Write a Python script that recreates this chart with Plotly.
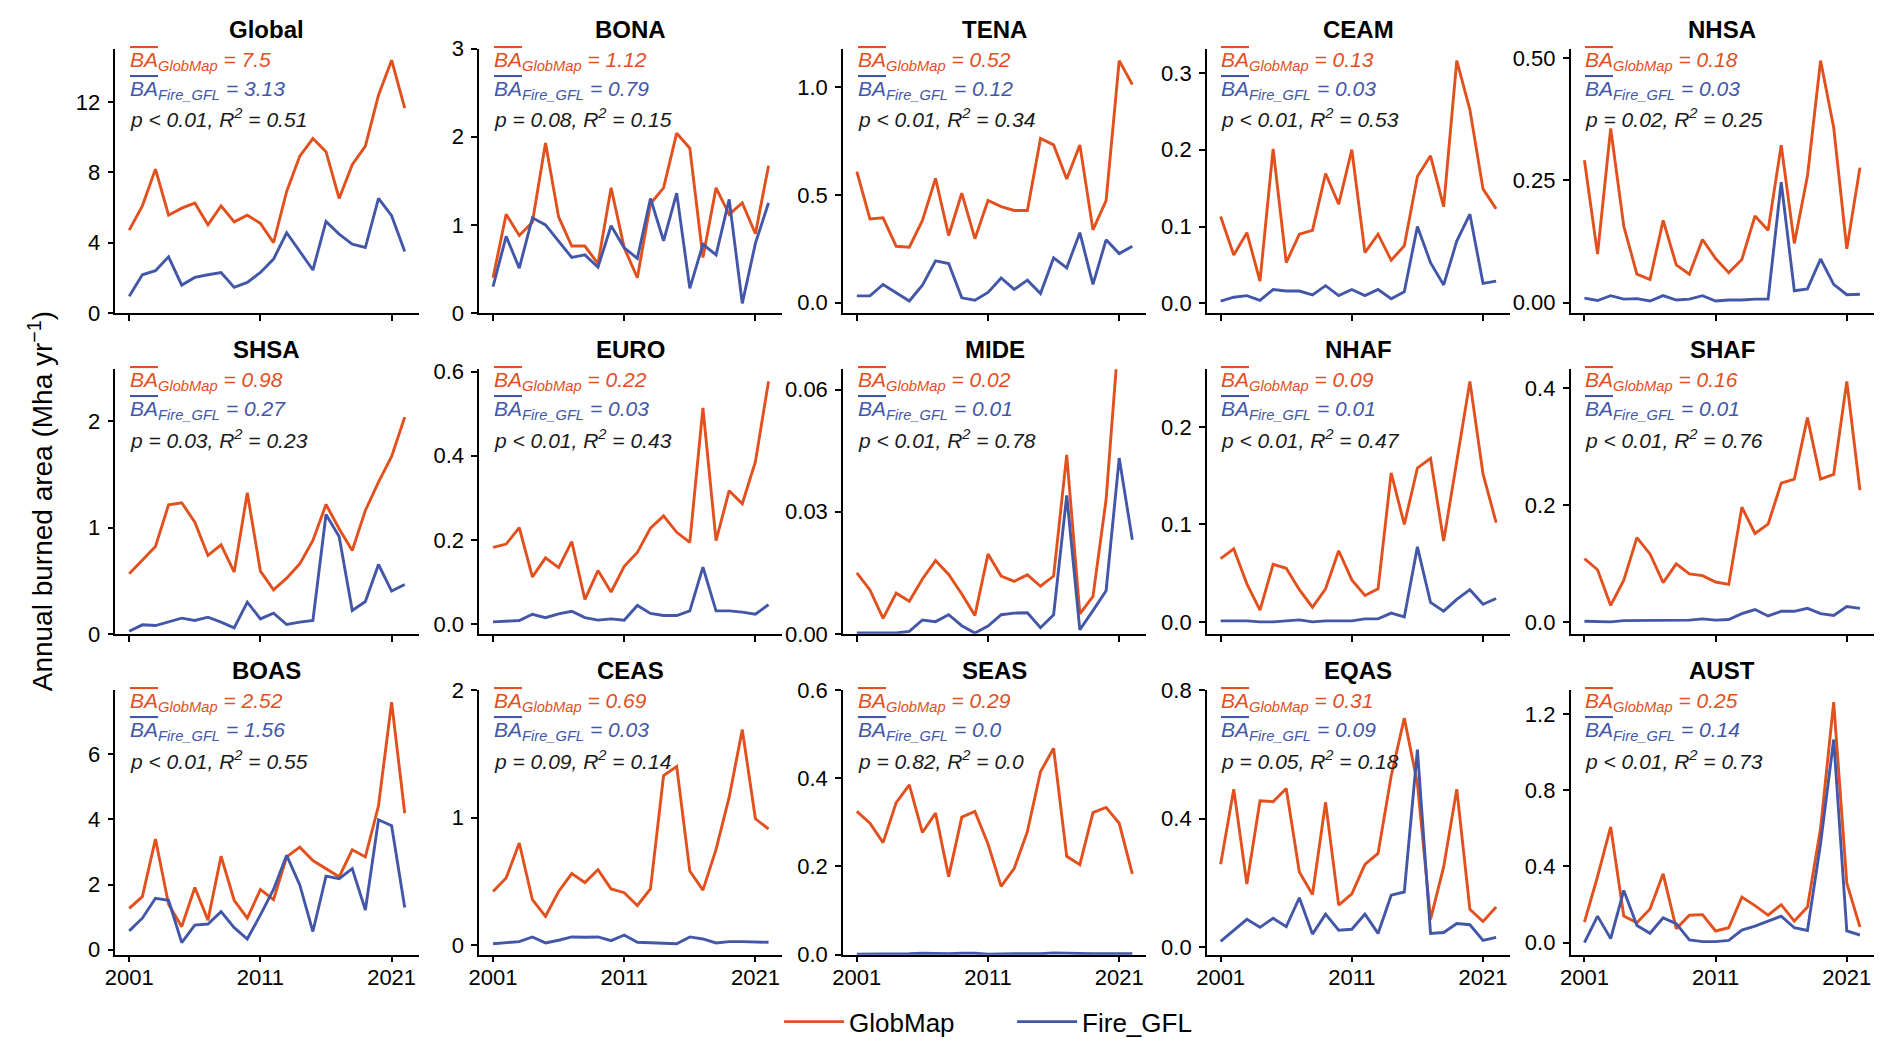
import plotly.graph_objects as go

W, H = 1892, 1054          # browser window
BODY = 8                   # default page margin of the html body
FW, FH = W - 2 * BODY, H - 2 * BODY
# empirical correction between requested and photographed positions
SX, OX = 0.994, 9.1
SY, OY = 0.977, 11.3

YEARS = list(range(2001, 2023))
REGIONS = ["Global", "BONA", "TENA", "CEAM", "NHSA",
           "SHSA", "EURO", "MIDE", "NHAF", "SHAF",
           "BOAS", "CEAS", "SEAS", "EQAS", "AUST"]

# ---- annual burned area (Mha/yr), GlobMap and Fire_GFL, 2001-2022 ----
GLOBAL_GM = [4.72, 6.1, 8.19, 5.57, 5.97, 6.26, 5.02, 6.1, 5.19, 5.57, 5.1, 4.0, 6.92, 8.93, 9.93, 9.18, 6.52, 8.44, 9.5, 12.4, 14.39, 11.66]
GLOBAL_GFL = [0.95, 2.18, 2.41, 3.2, 1.59, 2.03, 2.18, 2.31, 1.46, 1.74, 2.31, 3.07, 4.57, 3.5, 2.45, 5.21, 4.49, 3.92, 3.73, 6.52, 5.54, 3.5]
BONA_GM = [0.40, 1.12, 0.88, 1.03, 1.93, 1.09, 0.76, 0.76, 0.56, 1.42, 0.74, 0.40, 1.24, 1.42, 2.04, 1.87, 0.63, 1.42, 1.12, 1.25, 0.9, 1.67]
BONA_GFL = [0.30, 0.87, 0.51, 1.08, 1.0, 0.82, 0.63, 0.66, 0.52, 0.99, 0.74, 0.62, 1.30, 0.82, 1.36, 0.28, 0.78, 0.66, 1.29, 0.11, 0.79, 1.25]
TENA_GM = [0.608, 0.389, 0.394, 0.262, 0.258, 0.382, 0.577, 0.312, 0.508, 0.297, 0.474, 0.446, 0.428, 0.428, 0.762, 0.732, 0.574, 0.732, 0.338, 0.474, 1.123, 1.012]
TENA_GFL = [0.032, 0.032, 0.085, 0.046, 0.008, 0.082, 0.194, 0.182, 0.023, 0.012, 0.048, 0.115, 0.062, 0.105, 0.043, 0.208, 0.162, 0.325, 0.085, 0.292, 0.228, 0.262]
CEAM_GM = [0.113, 0.063, 0.092, 0.029, 0.201, 0.053, 0.09, 0.095, 0.169, 0.129, 0.2, 0.066, 0.09, 0.056, 0.075, 0.165, 0.192, 0.126, 0.316, 0.252, 0.149, 0.123]
CEAM_GFL = [0.003, 0.008, 0.01, 0.004, 0.018, 0.016, 0.016, 0.011, 0.023, 0.01, 0.018, 0.01, 0.018, 0.006, 0.015, 0.1, 0.053, 0.024, 0.081, 0.116, 0.026, 0.029]
NHSA_GM = [0.291, 0.099, 0.356, 0.156, 0.058, 0.047, 0.168, 0.077, 0.058, 0.129, 0.09, 0.061, 0.088, 0.177, 0.148, 0.322, 0.121, 0.259, 0.495, 0.358, 0.11, 0.276]
NHSA_GFL = [0.009, 0.004, 0.014, 0.007, 0.008, 0.003, 0.014, 0.005, 0.007, 0.014, 0.003, 0.005, 0.005, 0.007, 0.007, 0.246, 0.024, 0.028, 0.089, 0.037, 0.016, 0.017]
SHSA_GM = [0.565, 0.69, 0.823, 1.215, 1.234, 1.052, 0.738, 0.838, 0.581, 1.328, 0.59, 0.414, 0.524, 0.659, 0.879, 1.218, 0.989, 0.785, 1.162, 1.429, 1.67, 2.04]
SHSA_GFL = [0.025, 0.085, 0.078, 0.116, 0.148, 0.126, 0.157, 0.11, 0.057, 0.298, 0.141, 0.195, 0.088, 0.11, 0.126, 1.124, 0.917, 0.22, 0.305, 0.653, 0.402, 0.465]
EURO_GM = [0.182, 0.19, 0.229, 0.112, 0.157, 0.134, 0.196, 0.058, 0.127, 0.076, 0.137, 0.17, 0.228, 0.257, 0.218, 0.194, 0.514, 0.198, 0.317, 0.286, 0.386, 0.577]
EURO_GFL = [0.005, 0.007, 0.008, 0.023, 0.015, 0.024, 0.03, 0.015, 0.009, 0.012, 0.009, 0.044, 0.025, 0.02, 0.02, 0.031, 0.135, 0.031, 0.031, 0.028, 0.023, 0.046]
MIDE_GM = [0.015, 0.0108, 0.0038, 0.01, 0.008, 0.0135, 0.018, 0.0146, 0.0098, 0.0045, 0.0196, 0.0142, 0.0129, 0.0145, 0.0117, 0.0142, 0.044, 0.0049, 0.0092, 0.033, 0.075, 0.07]
MIDE_GFL = [0.0002, 0.0002, 0.0002, 0.0002, 0.0006, 0.0034, 0.003, 0.0047, 0.002, 0.0002, 0.0019, 0.0047, 0.0051, 0.0052, 0.0015, 0.0047, 0.034, 0.001, 0.0057, 0.0106, 0.0432, 0.0231]
NHAF_GM = [0.065, 0.075, 0.039, 0.012, 0.059, 0.055, 0.033, 0.015, 0.034, 0.073, 0.043, 0.027, 0.034, 0.153, 0.1, 0.158, 0.168, 0.083, 0.165, 0.247, 0.152, 0.102]
NHAF_GFL = [0.001, 0.001, 0.001, 0.0, 0.0, 0.001, 0.002, 0.0, 0.001, 0.001, 0.001, 0.003, 0.003, 0.009, 0.005, 0.077, 0.02, 0.011, 0.023, 0.033, 0.018, 0.024]
SHAF_GM = [0.108, 0.089, 0.028, 0.071, 0.144, 0.116, 0.067, 0.099, 0.082, 0.079, 0.068, 0.064, 0.196, 0.151, 0.167, 0.237, 0.244, 0.349, 0.244, 0.252, 0.411, 0.225]
SHAF_GFL = [0.001, 0.001, 0.0, 0.002, 0.002, 0.002, 0.003, 0.002, 0.003, 0.005, 0.003, 0.004, 0.014, 0.021, 0.01, 0.018, 0.018, 0.023, 0.014, 0.011, 0.026, 0.023]
BOAS_GM = [1.27, 1.63, 3.4, 1.4, 0.71, 1.91, 0.91, 2.87, 1.52, 0.97, 1.85, 1.54, 2.85, 3.15, 2.74, 2.49, 2.24, 3.07, 2.85, 4.42, 7.6, 4.19]
BOAS_GFL = [0.58, 0.97, 1.58, 1.52, 0.22, 0.76, 0.79, 1.17, 0.68, 0.33, 1.07, 1.85, 2.9, 1.99, 0.56, 2.26, 2.18, 2.49, 1.22, 3.99, 3.81, 1.3]
CEAS_GM = [0.42, 0.525, 0.8, 0.355, 0.225, 0.42, 0.56, 0.49, 0.59, 0.44, 0.41, 0.31, 0.44, 1.33, 1.4, 0.58, 0.43, 0.75, 1.16, 1.69, 0.99, 0.91]
CEAS_GFL = [0.01, 0.02, 0.026, 0.063, 0.016, 0.037, 0.063, 0.06, 0.063, 0.034, 0.078, 0.021, 0.016, 0.01, 0.01, 0.063, 0.047, 0.016, 0.026, 0.026, 0.026, 0.021]
SEAS_GM = [0.325, 0.298, 0.254, 0.345, 0.385, 0.277, 0.321, 0.177, 0.312, 0.325, 0.251, 0.155, 0.196, 0.279, 0.415, 0.468, 0.223, 0.204, 0.322, 0.334, 0.298, 0.183]
SEAS_GFL = [0.001, 0.001, 0.001, 0.001, 0.002, 0.003, 0.002, 0.002, 0.003, 0.003, 0.001, 0.002, 0.002, 0.002, 0.002, 0.004, 0.003, 0.002, 0.002, 0.002, 0.002, 0.002]
EQAS_GM = [0.258, 0.492, 0.197, 0.456, 0.453, 0.494, 0.234, 0.164, 0.451, 0.131, 0.166, 0.258, 0.292, 0.533, 0.713, 0.51, 0.087, 0.25, 0.492, 0.118, 0.08, 0.125]
EQAS_GFL = [0.018, 0.053, 0.087, 0.062, 0.09, 0.064, 0.154, 0.041, 0.103, 0.053, 0.056, 0.103, 0.043, 0.162, 0.172, 0.615, 0.043, 0.046, 0.074, 0.07, 0.021, 0.031]
AUST_GM = [0.108, 0.347, 0.607, 0.139, 0.104, 0.177, 0.361, 0.073, 0.144, 0.147, 0.061, 0.078, 0.239, 0.194, 0.144, 0.199, 0.113, 0.187, 0.6, 1.262, 0.312, 0.083]
AUST_GFL = [0.0, 0.139, 0.021, 0.274, 0.09, 0.049, 0.13, 0.1, 0.014, 0.005, 0.005, 0.012, 0.066, 0.087, 0.113, 0.139, 0.078, 0.064, 0.52, 1.066, 0.061, 0.04]

# ---- statistics printed in each panel ----
MEAN_GM = ["7.5", "1.12", "0.52", "0.13", "0.18", "0.98", "0.22", "0.02", "0.09", "0.16", "2.52", "0.69", "0.29", "0.31", "0.25"]
MEAN_GFL = ["3.13", "0.79", "0.12", "0.03", "0.03", "0.27", "0.03", "0.01", "0.01", "0.01", "1.56", "0.03", "0.0", "0.09", "0.14"]
P_TEXT = ["p &lt; 0.01", "p = 0.08", "p &lt; 0.01", "p &lt; 0.01", "p = 0.02",
          "p = 0.03", "p &lt; 0.01", "p &lt; 0.01", "p &lt; 0.01", "p &lt; 0.01",
          "p &lt; 0.01", "p = 0.09", "p = 0.82", "p = 0.05", "p &lt; 0.01"]
R2_TEXT = ["0.51", "0.15", "0.34", "0.53", "0.25", "0.23", "0.43", "0.78", "0.47", "0.76", "0.55", "0.14", "0.0", "0.18", "0.73"]

# ---- y tick labels per panel ----
Y_TICKS = [["0", "4", "8", "12"], ["0", "1", "2", "3"], ["0.0", "0.5", "1.0"], ["0.0", "0.1", "0.2", "0.3"], ["0.00", "0.25", "0.50"],
           ["0", "1", "2"], ["0.0", "0.2", "0.4", "0.6"], ["0.00", "0.03", "0.06"], ["0.0", "0.1", "0.2"], ["0.0", "0.2", "0.4"],
           ["0", "2", "4", "6"], ["0", "1", "2"], ["0.0", "0.2", "0.4", "0.6"], ["0.0", "0.4", "0.8"], ["0.0", "0.4", "0.8", "1.2"]]
X_TICKS = [2001, 2011, 2021]

SERIES_GM = [GLOBAL_GM, BONA_GM, TENA_GM, CEAM_GM, NHSA_GM, SHSA_GM, EURO_GM, MIDE_GM,
             NHAF_GM, SHAF_GM, BOAS_GM, CEAS_GM, SEAS_GM, EQAS_GM, AUST_GM]
SERIES_GFL = [GLOBAL_GFL, BONA_GFL, TENA_GFL, CEAM_GFL, NHSA_GFL, SHSA_GFL, EURO_GFL, MIDE_GFL,
              NHAF_GFL, SHAF_GFL, BOAS_GFL, CEAS_GFL, SEAS_GFL, EQAS_GFL, AUST_GFL]

# axis limits that were fixed in the original (others: data range + 5%)
Y_LIMITS = {"Global": (0, 15.05), "BONA": (0, 3.0), "SHSA": (0, 2.49), "MIDE": (0, 0.065),
            "CEAS": (-0.076, 2.0), "SEAS": (0, 0.6), "EQAS": (-0.023, 0.8)}

ORANGE = "#E2501D"
BLUE = "#4357A8"
FONT = "Liberation Sans, Arial, Helvetica, sans-serif"

# ---- layout geometry (target pixels in the picture) ----
COL_LEFT = [113.5 + 363.75 * c for c in range(5)]
PANEL_W = 303
ROW_TOP = [47.7 + 321.15 * r for r in range(3)]
PANEL_H = 264.8


def px(x):
    return ((x - OX) / SX - BODY) / FW


def py(y):
    return 1 - ((y - OY) / SY - BODY) / FH


fig = go.Figure()
annotations = []

for k, reg in enumerate(REGIONS):
    r, c = divmod(k, 5)
    n = k + 1
    xa = "x" if n == 1 else f"x{n}"
    ya = "y" if n == 1 else f"y{n}"
    gm = SERIES_GM[k]
    gfl = SERIES_GFL[k]
    fig.add_trace(go.Scatter(x=YEARS, y=gm, mode="lines", name="GlobMap",
                             line=dict(color=ORANGE, width=2.9), xaxis=xa, yaxis=ya,
                             showlegend=(k == 0), legendgroup="gm"))
    fig.add_trace(go.Scatter(x=YEARS, y=gfl, mode="lines", name="Fire_GFL",
                             line=dict(color=BLUE, width=2.9), xaxis=xa, yaxis=ya,
                             showlegend=(k == 0), legendgroup="gfl"))

    lo_d = min(min(gm), min(gfl))
    hi_d = max(max(gm), max(gfl))
    pad = 0.05 * (hi_d - lo_d)
    yr = Y_LIMITS.get(reg, (lo_d - pad, hi_d + pad))

    left = COL_LEFT[c]
    top = ROW_TOP[r]
    xdom = [px(left), px(left + PANEL_W)]
    ydom = [py(top + PANEL_H), py(top)]
    axis_common = dict(showline=True, linecolor="black", linewidth=1.6, ticks="outside",
                       ticklen=6, tickwidth=1.5, tickcolor="black", showgrid=False,
                       zeroline=False, tickfont=dict(family=FONT, size=22, color="black"))
    xkey = "xaxis" if n == 1 else f"xaxis{n}"
    ykey = "yaxis" if n == 1 else f"yaxis{n}"
    fig.layout[xkey] = dict(domain=xdom, anchor=ya, range=[1999.95, 2023.05],
                            tickvals=X_TICKS, ticktext=[str(t) for t in X_TICKS],
                            showticklabels=(r == 2), ticklabelstandoff=-4, **axis_common)
    fig.layout[ykey] = dict(domain=ydom, anchor=xa, range=list(yr),
                            tickvals=[float(t) for t in Y_TICKS[k]], ticktext=Y_TICKS[k],
                            ticklabelstandoff=3, **axis_common)

    # panel title
    annotations.append(dict(x=px(left + PANEL_W / 2), y=py(top - 19.5), xref="paper", yref="paper",
                            text=f"<b>{reg}</b>", showarrow=False, xanchor="center", yanchor="middle",
                            font=dict(family=FONT, size=24, color="black")))
    tx = px(left + 12.5)
    annotations.append(dict(x=tx, y=py(top + 12), xref="paper", yref="paper", showarrow=False,
                            xanchor="left", yanchor="middle",
                            text=f"<i><span style='text-decoration:overline'>BA</span><sub>GlobMap</sub> = {MEAN_GM[k]}</i>",
                            font=dict(family=FONT, size=21, color=ORANGE)))
    annotations.append(dict(x=tx, y=py(top + 41), xref="paper", yref="paper", showarrow=False,
                            xanchor="left", yanchor="middle",
                            text=f"<i><span style='text-decoration:overline'>BA</span><sub>Fire_GFL</sub> = {MEAN_GFL[k]}</i>",
                            font=dict(family=FONT, size=21, color=BLUE)))
    annotations.append(dict(x=tx, y=py(top + 70), xref="paper", yref="paper", showarrow=False,
                            xanchor="left", yanchor="middle",
                            text=f"<i>{P_TEXT[k]}, R<sup>2</sup> = {R2_TEXT[k]}</i>",
                            font=dict(family=FONT, size=21, color="#1a1a1a")))

annotations.append(dict(x=px(39), y=py(501), xref="paper", yref="paper", showarrow=False,
                        xanchor="center", yanchor="middle", textangle=-90,
                        text="Annual burned area (Mha yr<sup>\u22121</sup>)",
                        font=dict(family=FONT, size=28, color="black")))

fig.update_layout(
    width=FW, height=FH, autosize=False,
    margin=dict(l=0, r=0, t=0, b=0),
    paper_bgcolor="white", plot_bgcolor="white",
    annotations=annotations,
    showlegend=True,
    legend=dict(orientation="h", x=px(1010), xanchor="center", y=py(1022), yanchor="middle",
                font=dict(family=FONT, size=26, color="black"), itemwidth=60,
                entrywidth=158, entrywidthmode="pixels",
                bgcolor="rgba(0,0,0,0)"),
)

fig.write_html("out.html", config={"displayModeBar": False})
